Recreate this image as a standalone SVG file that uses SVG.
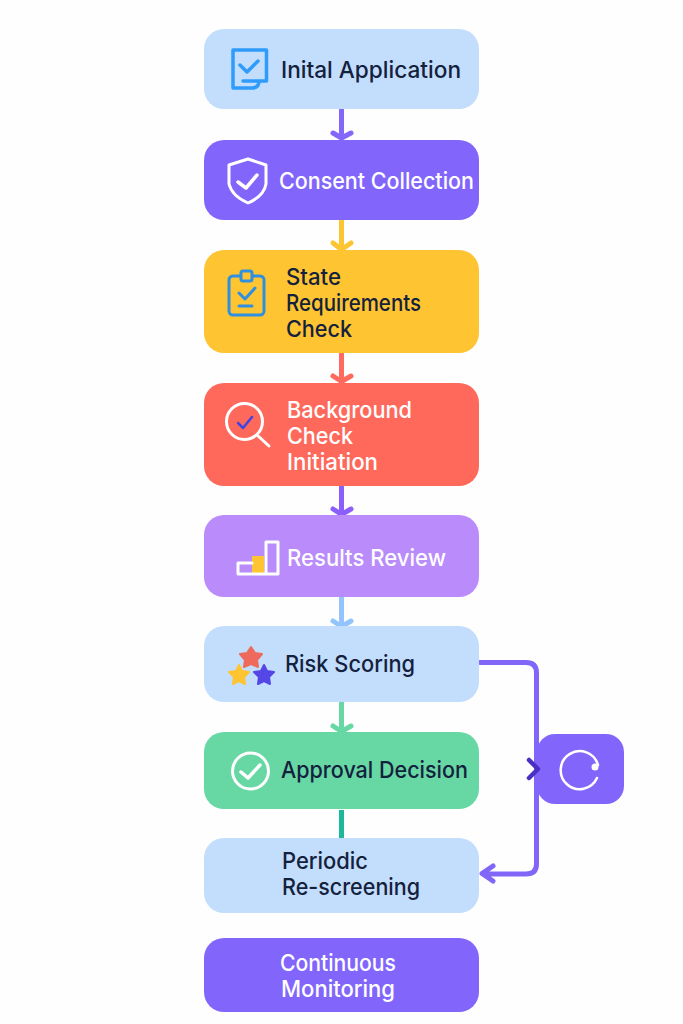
<svg xmlns="http://www.w3.org/2000/svg" width="683" height="1024" viewBox="0 0 683 1024">
<style>
.n{stroke:none}
text{font-family:"Inter","Noto Sans",sans-serif;font-size:23px;font-weight:500}
.d{fill:#14213d}.w{fill:#fff}
.c{fill:none;stroke-width:5;stroke-linecap:round;stroke-linejoin:round}
.i{fill:none;stroke-linecap:round;stroke-linejoin:round}
</style>
<rect width="683" height="1024" fill="#fefefe"/>
<g id="connectors">
<path class="c" stroke="#8466fb" d="M341.500 110V137M333 133L341.500 138L351 133"/>
<path class="c" stroke="#fdc532" d="M341.500 221V248M333 243L341.500 249.500L351 243"/>
<path class="c" stroke="#fe6a5e" d="M341.500 354V380M333 376L341.500 381.500L351 376"/>
<path class="c" stroke="#8a5ffb" d="M341.500 487V513M333 509L341.500 514.500L351 509"/>
<path class="c" stroke="#93c4fd" d="M341.500 598V624M333 621L341.500 626.500L351 621"/>
<path class="c" stroke="#67d7a4" d="M341.500 703V730M333 726L341.500 731.500L351 726"/>
<path d="M341.500 810V838" fill="none" stroke="#1cb89b" stroke-width="5"/>
<path class="c" stroke="#8166f8" d="M480 662.500H526Q536.500 662.500 536.500 673V864Q536.500 874 526 874H483M493 866L482 873.500L493 881"/>
</g>
<g id="node-application">
<rect class="n" x="204" y="29" width="275" height="80" rx="20" fill="#c3ddfd"/>
<path class="i" stroke="#2f9bfb" stroke-width="3.500" d="M233 50H266.500V81H259Q259 88 252 88H233ZM243 81H259"/>
<path class="i" stroke="#2f9bfb" stroke-width="3.500" d="M240 65L247 72L258 61"/>
<text class="d" x="281" y="78" textLength="180" lengthAdjust="spacingAndGlyphs">Inital Application</text>
</g>
<g id="node-consent">
<rect class="n" x="204" y="140" width="275" height="80" rx="20" fill="#8266fc"/>
<path class="i" stroke="#fff" stroke-width="3" d="M248 159L266 165V184Q264 196 248 203Q232 196 229 184V165Z"/>
<path class="i" stroke="#fff" stroke-width="3.500" d="M238 182L246 188L257 175"/>
<text class="w" x="279" y="189" textLength="195" lengthAdjust="spacingAndGlyphs">Consent Collection</text>
</g>
<g id="node-state">
<rect class="n" x="204" y="250" width="275" height="103" rx="20" fill="#fec431"/>
<rect class="i" x="229" y="276" width="35" height="39" rx="4" stroke="#2f8fe0" stroke-width="3"/>
<rect x="241" y="271" width="11" height="10" rx="2" fill="#fec431" stroke="#2f8fe0" stroke-width="3"/>
<path class="i" stroke="#2f8fe0" stroke-width="3" d="M239 293L245 299L255 288M239 306H252"/>
<text class="d" x="286" y="285" textLength="55" lengthAdjust="spacingAndGlyphs">State</text>
<text class="d" x="286" y="310.500" textLength="135" lengthAdjust="spacingAndGlyphs">Requirements</text>
<text class="d" x="286" y="336.500" textLength="66" lengthAdjust="spacingAndGlyphs">Check</text>
</g>
<g id="node-background">
<rect class="n" x="204" y="383" width="275" height="103" rx="20" fill="#fe695c"/>
<circle class="i" cx="244.500" cy="421.500" r="18" stroke="#fff" stroke-width="3"/>
<path class="i" stroke="#fff" stroke-width="3" d="M257 435L269 446"/>
<path class="i" stroke="#4044e0" stroke-width="2.500" d="M238 423L243 428L252 417"/>
<text class="w" x="287" y="418" textLength="125" lengthAdjust="spacingAndGlyphs">Background</text>
<text class="w" x="287" y="444" textLength="66" lengthAdjust="spacingAndGlyphs">Check</text>
<text class="w" x="287" y="470" textLength="91" lengthAdjust="spacingAndGlyphs">Initiation</text>
</g>
<g id="node-results">
<rect class="n" x="204" y="515" width="275" height="82" rx="20" fill="#b98bfb"/>
<rect x="252" y="556" width="12" height="17" fill="#fec431"/>
<path class="i" stroke="#fff" stroke-width="3" d="M238 574V563H252M238 574H278V542H266V574"/>
<text class="w" x="287" y="566" textLength="159" lengthAdjust="spacingAndGlyphs">Results Review</text>
</g>
<g id="node-risk">
<rect class="n" x="204" y="626" width="275" height="76" rx="20" fill="#c3ddfd"/>
<polygon points="251,647 255,653 262,654 257,660 258,667 251,664 244,667 245,660 240,654 247,653" fill="#ee6a5c" stroke="#ee6a5c" stroke-width="2" stroke-linejoin="round"/>
<polygon points="239,665 242,671 249,672 244,677 245,684 239,681 233,684 234,677 229,672 236,671" fill="#fec431" stroke="#fec431" stroke-width="2" stroke-linejoin="round"/>
<polygon points="264,665 267,671 274,672 269,677 270,684 264,681 258,684 259,677 254,672 261,671" fill="#5546e6" stroke="#5546e6" stroke-width="2" stroke-linejoin="round"/>
<text class="d" x="285" y="672" textLength="130" lengthAdjust="spacingAndGlyphs">Risk Scoring</text>
</g>
<g id="node-approval">
<rect class="n" x="204" y="732" width="275" height="77" rx="20" fill="#67d7a4"/>
<circle class="i" cx="250.500" cy="771" r="18" stroke="#fff" stroke-width="3"/>
<path class="i" stroke="#fff" stroke-width="3.500" d="M241 772L248 778L260 765"/>
<text class="d" x="281" y="778" textLength="187" lengthAdjust="spacingAndGlyphs">Approval Decision</text>
</g>
<g id="node-rescreening">
<rect class="n" x="204" y="838" width="275" height="75" rx="20" fill="#c3ddfd"/>
<text class="d" x="282" y="869" textLength="86" lengthAdjust="spacingAndGlyphs">Periodic</text>
<text class="d" x="282" y="895" textLength="138" lengthAdjust="spacingAndGlyphs">Re-screening</text>
</g>
<g id="node-monitoring">
<rect class="n" x="204" y="938" width="275" height="74" rx="20" fill="#8266fc"/>
<text class="w" x="280" y="971" textLength="116" lengthAdjust="spacingAndGlyphs">Continuous</text>
<text class="w" x="281" y="997" textLength="114" lengthAdjust="spacingAndGlyphs">Monitoring</text>
</g>
<g id="node-loop">
<rect class="n" x="537" y="734" width="87" height="70" rx="18" fill="#8266fc"/>
<path class="i" stroke="#fff" stroke-width="2.500" d="M597 778A19 19 0 1 1 598 765"/>
<circle cx="595" cy="767" r="3.500" fill="#fff"/>
<path class="i" stroke="#4a2fc4" stroke-width="4.500" d="M529 760L538 769L529 778"/>
</g>
</svg>
